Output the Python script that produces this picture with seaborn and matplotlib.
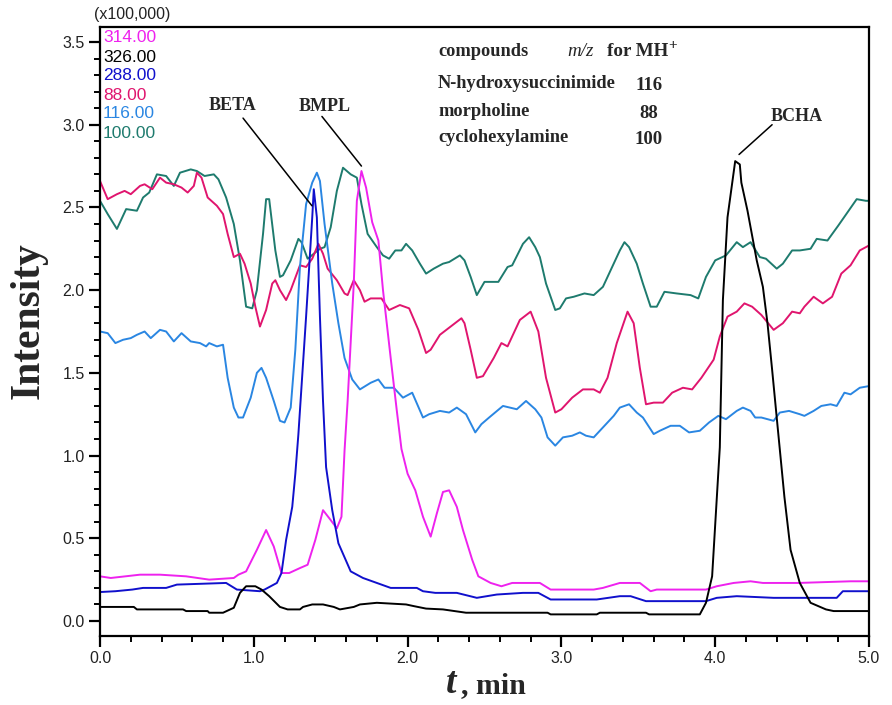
import matplotlib
matplotlib.use("Agg")
import matplotlib.pyplot as plt
import seaborn as sns
import numpy as np
import pandas as pd

# ---------------- data (x100,000 intensity units, t in min) ----------------
t_100 = [0, 0.05, 0.11, 0.17, 0.24, 0.28, 0.32, 0.37, 0.43, 0.48, 0.52, 0.59, 0.63, 0.68, 0.74, 0.77,
         0.82, 0.87, 0.91, 0.95, 0.99, 1.02, 1.06, 1.08, 1.10, 1.14, 1.17, 1.19, 1.24, 1.29, 1.31, 1.35,
         1.39, 1.43, 1.46, 1.50, 1.54, 1.58, 1.63, 1.67, 1.70, 1.74, 1.80, 1.84, 1.88, 1.92, 1.96, 1.99,
         2.03, 2.08, 2.12, 2.17, 2.23, 2.27, 2.34, 2.37, 2.41, 2.45, 2.50, 2.59, 2.65, 2.68, 2.75, 2.79,
         2.83, 2.86, 2.90, 2.96, 2.99, 3.03, 3.08, 3.15, 3.21, 3.27, 3.33, 3.38, 3.41, 3.44, 3.49, 3.53,
         3.58, 3.62, 3.67, 3.75, 3.84, 3.89, 3.94, 4.00, 4.07, 4.14, 4.18, 4.23, 4.29, 4.33, 4.40, 4.44,
         4.50, 4.55, 4.62, 4.66, 4.73, 4.80, 4.86, 4.92, 4.98, 5.0]
v_100 = [2.54, 2.46, 2.37, 2.49, 2.48, 2.56, 2.59, 2.70, 2.69, 2.63, 2.71, 2.73, 2.72, 2.69, 2.70, 2.67,
         2.56, 2.40, 2.18, 1.90, 1.89, 2.00, 2.34, 2.55, 2.55, 2.24, 2.08, 2.09, 2.18, 2.31, 2.29, 2.19,
         2.22, 2.25, 2.26, 2.38, 2.60, 2.74, 2.70, 2.68, 2.52, 2.34, 2.26, 2.21, 2.19, 2.24, 2.24, 2.28,
         2.24, 2.16, 2.10, 2.13, 2.16, 2.17, 2.21, 2.18, 2.08, 1.97, 2.05, 2.05, 2.14, 2.15, 2.28, 2.32,
         2.26, 2.20, 2.04, 1.88, 1.89, 1.95, 1.96, 1.98, 1.97, 2.02, 2.14, 2.24, 2.29, 2.26, 2.16, 2.04,
         1.90, 1.90, 1.99, 1.98, 1.97, 1.95, 2.08, 2.18, 2.21, 2.29, 2.26, 2.29, 2.20, 2.19, 2.13, 2.16,
         2.24, 2.24, 2.25, 2.31, 2.30, 2.39, 2.47, 2.55, 2.54, 2.54]

t_88 = [0, 0.05, 0.11, 0.16, 0.20, 0.26, 0.29, 0.34, 0.39, 0.43, 0.48, 0.53, 0.57, 0.61, 0.63, 0.66,
        0.70, 0.76, 0.80, 0.83, 0.87, 0.91, 0.94, 0.98, 1.01, 1.04, 1.08, 1.12, 1.14, 1.17, 1.21, 1.24,
        1.30, 1.34, 1.38, 1.42, 1.45, 1.48, 1.54, 1.59, 1.61, 1.65, 1.69, 1.72, 1.76, 1.83, 1.88, 1.95,
        2.01, 2.07, 2.12, 2.15, 2.21, 2.28, 2.35, 2.37, 2.41, 2.45, 2.49, 2.56, 2.61, 2.65, 2.73, 2.80,
        2.85, 2.90, 2.96, 3.00, 3.07, 3.14, 3.21, 3.25, 3.30, 3.36, 3.43, 3.47, 3.51, 3.55, 3.60, 3.66,
        3.72, 3.79, 3.85, 3.91, 3.99, 4.03, 4.08, 4.14, 4.19, 4.24, 4.30, 4.38, 4.44, 4.50, 4.55, 4.58,
        4.64, 4.70, 4.76, 4.82, 4.88, 4.94, 5.0]
v_88 = [2.66, 2.55, 2.58, 2.60, 2.58, 2.63, 2.64, 2.61, 2.68, 2.65, 2.64, 2.62, 2.59, 2.63, 2.71, 2.68,
        2.56, 2.51, 2.46, 2.34, 2.20, 2.22, 2.16, 2.04, 1.90, 1.78, 1.88, 2.04, 2.06, 2.00, 1.94, 2.00,
        2.15, 2.14, 2.19, 2.28, 2.22, 2.13, 2.06, 1.98, 1.97, 2.06, 2.00, 1.93, 1.95, 1.95, 1.88, 1.91,
        1.89, 1.76, 1.62, 1.64, 1.73, 1.78, 1.83, 1.80, 1.64, 1.47, 1.48, 1.59, 1.68, 1.66, 1.82, 1.87,
        1.75, 1.47, 1.26, 1.28, 1.35, 1.40, 1.40, 1.38, 1.47, 1.68, 1.87, 1.80, 1.53, 1.31, 1.32, 1.32,
        1.38, 1.41, 1.40, 1.47, 1.58, 1.72, 1.84, 1.87, 1.92, 1.90, 1.85, 1.76, 1.80, 1.87, 1.86, 1.90,
        1.96, 1.92, 1.96, 2.10, 2.15, 2.24, 2.27]

t_116 = [0, 0.05, 0.10, 0.15, 0.20, 0.24, 0.29, 0.33, 0.39, 0.43, 0.48, 0.53, 0.59, 0.65, 0.69, 0.71,
         0.76, 0.80, 0.83, 0.87, 0.90, 0.93, 0.98, 1.02, 1.05, 1.08, 1.13, 1.17, 1.20, 1.24, 1.27, 1.30,
         1.34, 1.38, 1.41, 1.43, 1.46, 1.51, 1.55, 1.59, 1.64, 1.69, 1.76, 1.81, 1.85, 1.91, 1.97, 2.03,
         2.10, 2.14, 2.21, 2.27, 2.32, 2.38, 2.44, 2.48, 2.53, 2.62, 2.71, 2.77, 2.83, 2.87, 2.91, 2.96,
         3.01, 3.07, 3.12, 3.16, 3.21, 3.27, 3.34, 3.38, 3.44, 3.49, 3.53, 3.60, 3.64, 3.71, 3.77, 3.83,
         3.90, 3.96, 4.02, 4.07, 4.14, 4.18, 4.23, 4.26, 4.30, 4.38, 4.42, 4.48, 4.55, 4.58, 4.64, 4.69,
         4.75, 4.79, 4.84, 4.88, 4.94, 5.0]
v_116 = [1.75, 1.74, 1.68, 1.70, 1.71, 1.73, 1.75, 1.71, 1.76, 1.75, 1.69, 1.74, 1.69, 1.68, 1.66, 1.68,
         1.66, 1.67, 1.47, 1.29, 1.23, 1.23, 1.35, 1.50, 1.53, 1.47, 1.33, 1.21, 1.20, 1.29, 1.64, 2.14,
         2.52, 2.65, 2.71, 2.66, 2.40, 2.04, 1.80, 1.59, 1.46, 1.40, 1.44, 1.46, 1.41, 1.41, 1.35, 1.38,
         1.23, 1.25, 1.27, 1.26, 1.29, 1.25, 1.14, 1.19, 1.23, 1.30, 1.28, 1.33, 1.28, 1.23, 1.11, 1.06,
         1.11, 1.12, 1.14, 1.12, 1.11, 1.17, 1.24, 1.29, 1.31, 1.26, 1.23, 1.13, 1.15, 1.18, 1.18, 1.14,
         1.15, 1.20, 1.24, 1.22, 1.27, 1.29, 1.27, 1.23, 1.23, 1.21, 1.26, 1.27, 1.25, 1.24, 1.27, 1.30,
         1.31, 1.30, 1.38, 1.37, 1.41, 1.42]

t_288 = [0, 0.10, 0.21, 0.28, 0.43, 0.50, 0.82, 0.89, 1.04, 1.07, 1.15, 1.18, 1.21, 1.25, 1.27, 1.29,
         1.34, 1.38, 1.39, 1.41, 1.43, 1.45, 1.47, 1.51, 1.55, 1.63, 1.71, 1.80, 1.89, 2.06, 2.10, 2.18,
         2.32, 2.45, 2.58, 2.75, 2.85, 2.93, 3.23, 3.38, 3.45, 3.55, 3.94, 4.01, 4.14, 4.38, 4.79, 4.83, 5.0]
v_288 = [0.175, 0.18, 0.19, 0.20, 0.20, 0.22, 0.23, 0.19, 0.18, 0.19, 0.23, 0.29, 0.49, 0.69, 0.89, 1.13,
         1.84, 2.44, 2.61, 2.44, 1.84, 1.33, 0.93, 0.67, 0.47, 0.30, 0.26, 0.23, 0.20, 0.20, 0.18, 0.17,
         0.17, 0.14, 0.16, 0.17, 0.17, 0.13, 0.13, 0.15, 0.15, 0.12, 0.12, 0.14, 0.15, 0.14, 0.14, 0.18, 0.18]

t_314 = [0, 0.07, 0.26, 0.39, 0.56, 0.71, 0.87, 0.90, 0.95, 1.02, 1.08, 1.13, 1.18, 1.23, 1.30, 1.35,
         1.40, 1.45, 1.50, 1.54, 1.57, 1.59, 1.61, 1.65, 1.67, 1.70, 1.73, 1.77, 1.81, 1.84, 1.89, 1.93,
         1.96, 2.00, 2.05, 2.10, 2.15, 2.19, 2.23, 2.27, 2.32, 2.36, 2.42, 2.46, 2.54, 2.61, 2.68, 2.86,
         2.93, 3.21, 3.27, 3.38, 3.51, 3.58, 3.62, 3.81, 3.94, 4.01, 4.12, 4.23, 4.31, 4.54, 4.88, 5.0]
v_314 = [0.27, 0.26, 0.28, 0.28, 0.27, 0.25, 0.26, 0.28, 0.30, 0.43, 0.55, 0.45, 0.29, 0.29, 0.32, 0.34,
         0.49, 0.67, 0.61, 0.56, 0.63, 1.03, 1.33, 2.04, 2.54, 2.72, 2.62, 2.41, 2.30, 2.00, 1.59, 1.27,
         1.04, 0.89, 0.79, 0.63, 0.51, 0.65, 0.78, 0.79, 0.69, 0.55, 0.37, 0.27, 0.23, 0.21, 0.23, 0.23,
         0.19, 0.19, 0.20, 0.23, 0.23, 0.18, 0.19, 0.19, 0.19, 0.21, 0.23, 0.24, 0.23, 0.23, 0.24, 0.24]

t_326 = [0, 0.22, 0.24, 0.54, 0.56, 0.70, 0.71, 0.80, 0.87, 0.91, 0.95, 1.01, 1.05, 1.10, 1.17, 1.22,
         1.30, 1.32, 1.38, 1.45, 1.52, 1.56, 1.65, 1.69, 1.80, 1.99, 2.04, 2.12, 2.23, 2.38, 2.91, 2.93,
         3.23, 3.25, 3.55, 3.57, 3.90, 3.94, 3.98, 4.03, 4.05, 4.08, 4.13, 4.16, 4.17, 4.21, 4.27, 4.31,
         4.34, 4.37, 4.40, 4.45, 4.49, 4.55, 4.62, 4.72, 4.77, 5.0]
v_326 = [0.085, 0.085, 0.07, 0.07, 0.06, 0.06, 0.05, 0.05, 0.08, 0.17, 0.21, 0.21, 0.19, 0.15, 0.085, 0.07,
         0.07, 0.085, 0.10, 0.10, 0.085, 0.07, 0.085, 0.10, 0.11, 0.10, 0.09, 0.075, 0.07, 0.05, 0.05, 0.04,
         0.04, 0.05, 0.05, 0.04, 0.04, 0.11, 0.27, 1.05, 1.94, 2.44, 2.78, 2.76, 2.65, 2.48, 2.18, 2.02,
         1.80, 1.52, 1.23, 0.75, 0.43, 0.23, 0.11, 0.07, 0.06, 0.06]

legend_labels = ["314.00", "326.00", "288.00", "88.00", "116.00", "100.00"]
legend_colors = ["#EE22EE", "#000000", "#1010CC", "#E0156E", "#2A86E2", "#1E7B6E"]

table_rows = [("N-hydroxysuccinimide", "116"), ("morpholine", "88"), ("cyclohexylamine", "100")]
x_ticks = [0.0, 1.0, 2.0, 3.0, 4.0, 5.0]
y_ticks = [0.0, 0.5, 1.0, 1.5, 2.0, 2.5, 3.0, 3.5]

# ---------------- figure ----------------
sns.set_style("ticks")
plt.rcParams["font.family"] = ["Liberation Sans", "DejaVu Sans"]

W, H = 892, 705
fig = plt.figure(figsize=(W / 100, H / 100), dpi=100)
ax = fig.add_axes([100 / W, 1 - 636 / H, (869 - 100) / W, (636 - 27) / H])

series = [(t_100, v_100, "#1E7B6E"), (t_88, v_88, "#E0156E"), (t_116, v_116, "#2A86E2"),
          (t_314, v_314, "#EE22EE"), (t_288, v_288, "#1010CC"), (t_326, v_326, "#000000")]
for tt, vv, col in series:
    df = pd.DataFrame({"t": tt, "v": vv})
    sns.lineplot(data=df, x="t", y="v", color=col, linewidth=1.4, estimator=None, sort=False, ax=ax)

ax.set_xlim(0, 5.0)
ax.set_ylim(-0.0907, 3.5907)
ax.set_xticks(x_ticks)
ax.set_xticklabels([f"{v:.1f}" for v in x_ticks])
ax.set_yticks(y_ticks)
ax.set_yticklabels([f"{v:.1f}" for v in y_ticks])
ax.set_xticks(np.arange(0, 5.01, 0.2), minor=True)
ax.set_yticks(np.arange(0, 3.51, 0.1), minor=True)
ax.tick_params(which="major", direction="out", length=8, width=1.6, labelsize=11.5,
               labelcolor="#222222", color="black", pad=3)
ax.tick_params(which="minor", direction="out", length=4, width=1.4, color="black")
for sp in ax.spines.values():
    sp.set_visible(True)
    sp.set_linewidth(1.6)
    sp.set_color("black")
ax.set_xlabel("")
ax.set_ylabel("")
ax.grid(False)

def fx(px):
    return px / W

def fy(py):
    return 1 - py / H

serif = ["Liberation Serif", "DejaVu Serif"]

# axis labels
fig.text(fx(29), fy(321), "Intensity", rotation=90, ha="center", va="center",
         family=serif, weight="bold", fontsize=30)
fig.text(fx(446), fy(693), "t", ha="left", va="baseline", family=serif, weight="bold",
         style="italic", fontsize=27)
fig.text(fx(461), fy(693), ", min", ha="left", va="baseline", family=serif, weight="bold", fontsize=21.5)

# scale factor
fig.text(fx(132), fy(15), "(x100,000)", ha="center", va="center", fontsize=11.5, color="#222222")

# channel legend
for i, (lab, col) in enumerate(zip(legend_labels, legend_colors)):
    fig.text(fx(103), fy(38 + i * 19), lab, ha="left", va="center", fontsize=12.5, color=col)

# compounds table
fs_tab = 13.2
fig.text(fx(438), fy(52), "compounds", ha="left", va="center", family=serif, weight="bold", fontsize=fs_tab)
fig.text(fx(567), fy(52), "m/z", ha="left", va="center", family=serif, style="italic", fontsize=fs_tab + 0.5)
fig.text(fx(607), fy(52), "for MH", ha="left", va="center", family=serif, weight="bold", fontsize=fs_tab + 0.5)
fig.text(fx(668), fy(46), "+", ha="left", va="center", family=serif, weight="bold", fontsize=11)
row_y = [84, 111, 138]
for (name, mz), yy in zip(table_rows, row_y):
    fig.text(fx(438), fy(yy), name, ha="left", va="center", family=serif, weight="bold", fontsize=fs_tab)
    fig.text(fx(649), fy(yy + 2), mz, ha="center", va="center", family=serif, weight="bold", fontsize=13.5)

# peak annotations
ann = dict(arrowprops=dict(arrowstyle="-", color="black", lw=1.1, shrinkA=0, shrinkB=0))
ax.annotate("", xy=(1.378, 2.51), xytext=(0.93, 3.04), **ann)
ax.text(0.86, 3.115, "BETA", family=serif, weight="bold", fontsize=13, ha="center", va="center")
ax.annotate("", xy=(1.70, 2.75), xytext=(1.443, 3.05), **ann)
ax.text(1.46, 3.11, "BMPL", family=serif, weight="bold", fontsize=13, ha="center", va="center")
ax.annotate("", xy=(4.155, 2.82), xytext=(4.37, 3.00), **ann)
ax.text(4.53, 3.05, "BCHA", family=serif, weight="bold", fontsize=13, ha="center", va="center")

fig.savefig("out.png", dpi=100)
